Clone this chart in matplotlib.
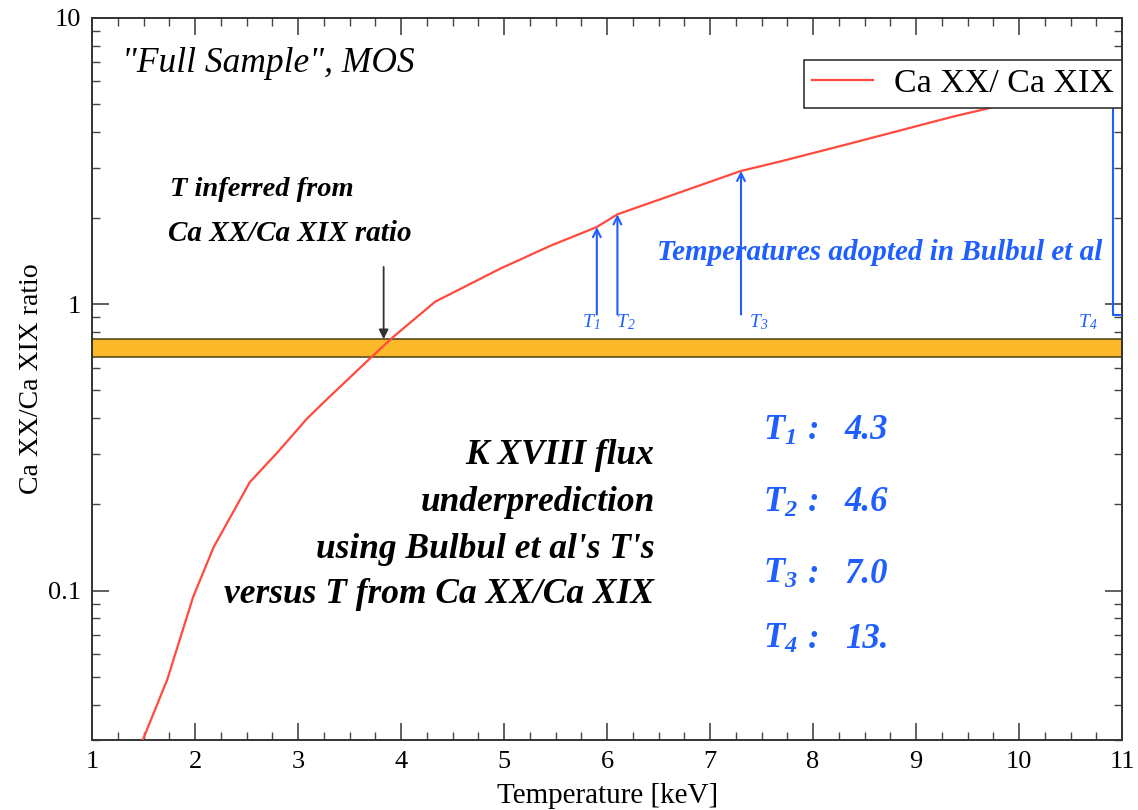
import numpy as np
import matplotlib
matplotlib.use("Agg")
import matplotlib.pyplot as plt
from matplotlib.ticker import MultipleLocator, LogLocator, NullFormatter, FixedLocator, FixedFormatter

plt.rcParams['font.family'] = ['Liberation Serif', 'DejaVu Serif']
plt.rcParams['mathtext.fontset'] = 'custom'
plt.rcParams['mathtext.it'] = 'Liberation Serif:italic:bold'
plt.rcParams['mathtext.rm'] = 'Liberation Serif:italic:bold'
plt.rcParams['mathtext.sf'] = 'Liberation Serif:italic'

# Ca XX / Ca XIX ratio curve
temp_kev = [1.49, 1.73, 1.98, 2.18, 2.53, 2.80, 3.09, 3.28, 3.72, 3.92, 4.33,
            4.96, 5.45, 5.90, 6.10, 7.30, 7.68, 8.36, 9.36, 9.88]
ratio = [0.030, 0.049, 0.095, 0.142, 0.239, 0.304, 0.40, 0.466, 0.658, 0.767, 1.02,
         1.33, 1.60, 1.86, 2.06, 2.92, 3.15, 3.64, 4.52, 5.00]

# observed ratio band
band_low = 0.655
band_high = 0.755
t_inferred = 3.83

# Bulbul et al temperatures (arrows)
arrow_t = [5.90, 6.10, 7.30]
arrow_top = [1.86, 2.06, 2.92]
arrow_bottom = 0.92
t4_x = 10.91
t4_top = 5.0

arrow_names = [r"$\mathsf{T_1}$", r"$\mathsf{T_2}$", r"$\mathsf{T_3}$", r"$\mathsf{T_4}$"]
arrow_label_x = [5.845, 6.18, 7.47, 10.67]

t_labels = ["1", "2", "3", "4"]
t_values = ["4.3", "4.6", "7.0", "13."]

blue = "#1f5fff"
red = "#ff4a3d"

fig = plt.figure(figsize=(11.38, 8.10), dpi=100)
ax = fig.add_axes([0.081, 0.086, 0.905, 0.892])

ax.set_yscale("log")
ax.set_xlim(1, 11)
ax.set_ylim(0.03, 10)

# band
ax.axhspan(band_low, band_high, facecolor="#fbb829", edgecolor="#5a4a20", lw=1.2, zorder=2)

# curve
ax.plot(temp_kev, ratio, color=red, lw=1.6, label="Ca XX/ Ca XIX", zorder=3)

# blue arrows
for t, top in zip(arrow_t, arrow_top):
    ax.annotate("", xy=(t, top), xytext=(t, arrow_bottom),
                arrowprops=dict(arrowstyle="->", color=blue, lw=1.5,
                                mutation_scale=14, shrinkA=0, shrinkB=0), zorder=4)
ax.plot([t4_x, t4_x, 11], [t4_top, arrow_bottom, arrow_bottom], color=blue, lw=1.5, zorder=4)
for nm, lx in zip(arrow_names, arrow_label_x):
    ax.text(lx, 0.94, nm, color=blue, fontsize=14, ha="center", va="top")

# black arrow
ax.annotate("", xy=(t_inferred, band_high), xytext=(t_inferred, 1.35),
            arrowprops=dict(arrowstyle="-|>", color="#333333", lw=1.3,
                            mutation_scale=14, shrinkA=0, shrinkB=0), zorder=5)

# texts
ax.text(1.29, 6.9, '"Full Sample", MOS', fontsize=25.5, style="italic", va="center")
ax.text(1.757, 2.52, "T inferred from", fontsize=20.5, style="italic", weight="bold", va="center")
ax.text(1.738, 1.76, "Ca XX/Ca XIX ratio", fontsize=21, style="italic", weight="bold", va="center")
ax.text(10.806, 1.52, "Temperatures adopted in Bulbul et al", fontsize=21, style="italic",
        weight="bold", color=blue, ha="right", va="center")

lines = ["K XVIII flux", "underprediction", "using Bulbul et al's T's", "versus T from Ca XX/Ca XIX"]
line_y = [0.276, 0.189, 0.130, 0.0908]
for s, y in zip(lines, line_y):
    ax.text(6.46, y, s, fontsize=25.5, style="italic", weight="bold", ha="right", va="baseline")

val_y = [0.337, 0.189, 0.1067, 0.0632]
for lab, v, y in zip(t_labels, t_values, val_y):
    ax.text(7.51, y, "$T_%s$" % lab, fontsize=25, color=blue, va="baseline")
    ax.text(7.95, y, ":", fontsize=25, color=blue, style="italic", weight="bold", va="baseline")
    ax.text(8.31, y, v, fontsize=25, color=blue, style="italic", weight="bold", va="baseline")

# ticks
ax.xaxis.set_major_locator(MultipleLocator(1))
ax.xaxis.set_minor_locator(MultipleLocator(0.25))
ax.yaxis.set_major_locator(FixedLocator([0.1, 1, 10]))
ax.yaxis.set_major_formatter(FixedFormatter(["0.1", "1", "10"]))
ax.yaxis.set_minor_locator(LogLocator(base=10, subs=np.arange(2, 10)))
ax.yaxis.set_minor_formatter(NullFormatter())
ax.tick_params(which="both", direction="in", top=True, right=True, labelsize=19, color="#444444")
ax.tick_params(which="major", length=12, width=1.2, pad=8)
ax.tick_params(which="minor", length=6, width=1.0)
for sp in ax.spines.values():
    sp.set_linewidth(1.4)
    sp.set_color("#333333")

ax.set_xlabel("Temperature [keV]", fontsize=21, labelpad=7)
ax.set_ylabel("Ca XX/Ca XIX ratio", fontsize=20, labelpad=3)

leg = ax.legend(loc="upper right", bbox_to_anchor=(1.0, 0.942), fontsize=24.5, frameon=True,
                fancybox=False, framealpha=1, edgecolor="#333333", borderpad=0.25,
                borderaxespad=0, handlelength=1.8, handletextpad=0.6)
leg.get_frame().set_linewidth(1.2)
leg.set_zorder(6)

fig.savefig("out.png", dpi=100)
